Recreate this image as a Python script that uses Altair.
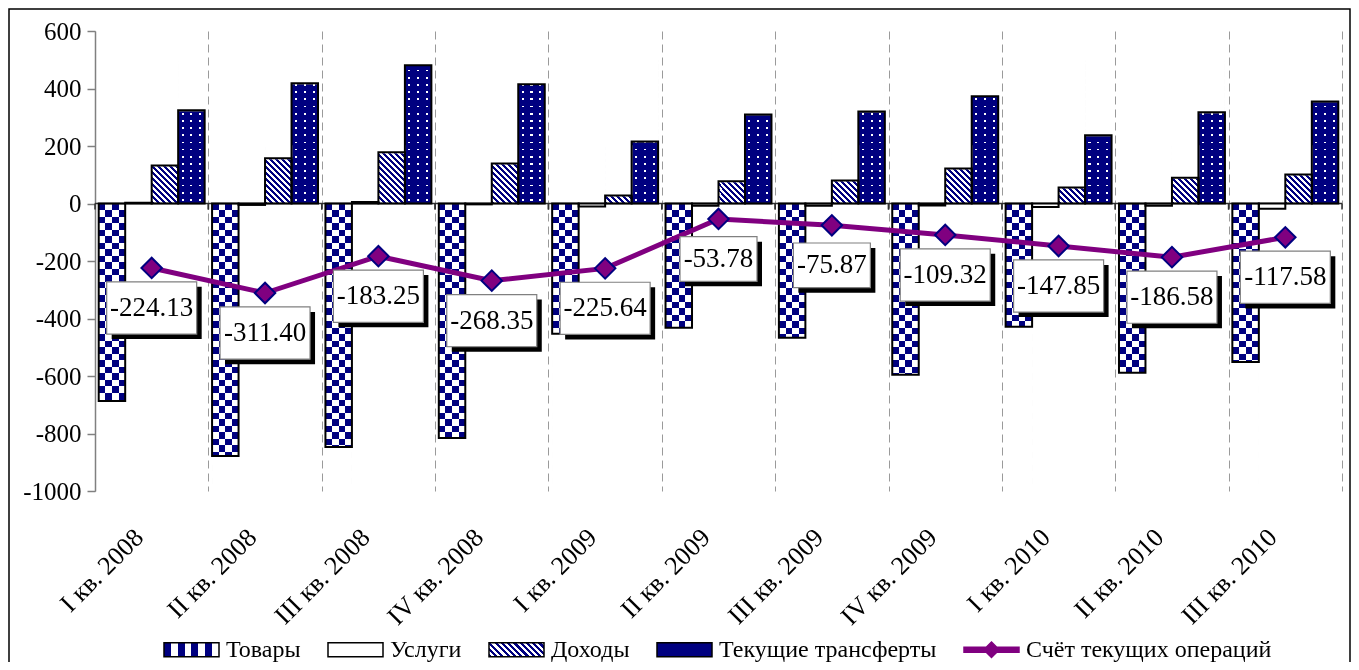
import altair as alt
import pandas as pd

categories = ["I кв. 2008", "II кв. 2008", "III кв. 2008", "IV кв. 2008",
              "I кв. 2009", "II кв. 2009", "III кв. 2009", "IV кв. 2009",
              "I кв. 2010", "II кв. 2010", "III кв. 2010"]
series = ["Товары", "Услуги", "Доходы", "Текущие трансферты"]
line_name = "Счёт текущих операций"
goods = [-687, -878, -847, -816, -453, -432, -467, -596, -429, -589, -551]
services = [3, -5, 5, -3, -10, -8, -8, -7, -12, -8, -18]
income = [132, 157, 178, 139, 28, 77, 80, 122, 56, 90, 101]
transfers = [324, 418, 481, 415, 216, 310, 320, 373, 237, 317, 355]
current = [-224.13, -311.40, -183.25, -268.35, -225.64, -53.78, -75.87,
           -109.32, -147.85, -186.58, -117.58]

NAVY = "#000080"
PURPLE = "#800080"
FONT = "Liberation Serif"
W, H = 1247, 460

bars = pd.DataFrame({
    "cat": categories * 4,
    "series": [s for s in series for _ in categories],
    "value": goods + services + income + transfers,
})
cur = pd.DataFrame({"cat": categories, "cur": current})
legend_df = pd.DataFrame({"s": series + [line_name]})
one = pd.DataFrame({"k": [0]})


def pattern(n, seq):
    stops = []
    for k in range(n):
        pos = k / n
        for c, f in seq:
            a = min(pos, 1.0)
            b = min(pos + f / n, 1.0)
            stops.append({"offset": round(a, 5), "color": c})
            stops.append({"offset": round(b, 5), "color": c})
            pos += f / n
    return stops


def grad(x1, y1, x2, y2, stops):
    return {"gradient": "linear", "x1": x1, "y1": y1, "x2": x2, "y2": y2, "stops": stops}


def grad_expr(g):
    st = ",".join("{offset:%s,color:'%s'}" % (s["offset"], s["color"]) for s in g["stops"])
    return ("{gradient:'linear',x1:%s,y1:%s,x2:%s,y2:%s,stops:[%s]}"
            % (g["x1"], g["y1"], g["x2"], g["y2"], st))


BW = [("black", 0.5), ("white", 0.5)]
goods_h = grad(0, 0, 0, 1, pattern(22, BW))
goods_v = grad(0, 0, 1, 0, pattern(2, BW))
DOT = [("black", 0.38), ("white", 0.24), ("black", 0.38)]
tr_h = grad(0, 0, 0, 1, pattern(20, DOT))
tr_v = grad(0, 0, 1, 0, pattern(3, DOT))
inc_d = grad(0, 1, 0.5554, -0.205, pattern(14, [(NAVY, 0.5), ("white", 0.5)]))

HYPHEN_NUM = "datum.value < 0 ? '-' + format(-datum.value, 'd') : format(datum.value, 'd')"

xaxis = alt.Axis(title=None, domain=False, ticks=False, tickSize=0, grid=True,
                 gridDash=[8, 5], gridColor="#9a9a9a", gridWidth=1,
                 tickBand="extent", labelAngle=-45, labelAlign="right",
                 labelBaseline="middle", labelFont=FONT, labelFontSize=26,
                 labelColor="black", labelPadding=42, labelOffset=-13,
                 labelOverlap=False, labelLimit=300)
xscale = alt.Scale(domain=categories, paddingInner=0, paddingOuter=0)
yaxis = alt.Axis(title=None, values=list(range(-1000, 601, 200)), grid=False,
                 labelExpr=HYPHEN_NUM,
                 labelFont=FONT, labelFontSize=25, labelColor="black",
                 domainColor="#808080", tickColor="#808080", tickSize=8,
                 domainWidth=1.5, tickWidth=1.5, labelPadding=6)
yscale = alt.Scale(domain=[-1000, 600], nice=False, zero=False)


def X(**kw):
    return alt.X("cat:N", sort=categories, scale=xscale, axis=xaxis, **kw)


def XO():
    return alt.XOffset("series:N", sort=series,
                       scale=alt.Scale(domain=series, paddingInner=0, paddingOuter=0.14))


def Y(f):
    return alt.Y(f, type="quantitative", scale=yscale, axis=yaxis)


def sub(name):
    return alt.Chart(bars).transform_filter(alt.datum.series == name)


def seg(chart, lo, hi):
    return chart.encode(x=X(), xOffset=XO(), y=Y(lo), y2=alt.Y2(hi))


def cover(chart):
    return chart.mark_bar(fill="white", stroke="white", strokeWidth=1.6)


layers = []

# Goods: checkerboard by XOR of two stripe layers
g = sub("Товары").transform_calculate(z="0", b="-1000")
layers.append(seg(g.mark_bar(fill=goods_h, strokeWidth=0), "z", "b"))
layers.append(seg(g.mark_bar(fill=goods_v, strokeWidth=0, blend="difference"), "value", "z"))
layers.append(seg(cover(g), "value", "b"))
layers.append(seg(g.mark_bar(fill=NAVY, strokeWidth=0, blend="lighten"), "value", "z"))

# Transfers: navy with white dots
t = sub("Текущие трансферты").transform_calculate(z="0", b="500")
layers.append(seg(t.mark_bar(fill=tr_h, strokeWidth=0), "z", "b"))
layers.append(seg(t.mark_bar(fill=tr_v, strokeWidth=0, blend="multiply"), "value", "z"))
layers.append(seg(cover(t), "value", "b"))
layers.append(seg(t.mark_bar(fill=NAVY, strokeWidth=0, blend="lighten"), "value", "z"))

# Income: diagonal stripes
i = sub("Доходы").transform_calculate(z="0", b="200")
layers.append(seg(i.mark_bar(fill=inc_d, strokeWidth=0), "z", "b"))
layers.append(seg(cover(i), "value", "b"))

# zero line and ticks
zr = alt.Chart(one).transform_calculate(z="0").mark_rule(color="#303030", strokeWidth=1.5).encode(y=Y("z"))
layers.append(zr)
for bp in (0, 1):
    tk = alt.Chart(cur).transform_calculate(z="0", zt="-21").mark_rule(
        color="#303030", strokeWidth=1.5).encode(x=X(bandPosition=bp), y=Y("z"), y2=alt.Y2("zt"))
    layers.append(tk)

# Services: white bars
layers.append(seg(sub("Услуги").transform_calculate(z="0").mark_bar(
    fill="white", stroke="black", strokeWidth=2), "value", "z"))
# Outlines
layers.append(seg(alt.Chart(bars).transform_filter(alt.datum.series != "Услуги")
                  .transform_calculate(z="0").mark_bar(
                      fillOpacity=0, stroke="black", strokeWidth=2), "value", "z"))

# Current account line
layers.append(alt.Chart(cur).mark_line(color=PURPLE, strokeWidth=5).encode(x=X(), y=Y("cur")))
layers.append(alt.Chart(cur).mark_point(shape="diamond", size=420, filled=True, fill=PURPLE,
                                        stroke=NAVY, strokeWidth=2, opacity=1)
              .encode(x=X(), y=Y("cur")))

# Data labels
BOX = "M-1,-0.58L1,-0.58L1,0.58L-1,0.58Z"
lab = alt.Chart(cur).transform_calculate(
    txt="(datum.cur < 0 ? '-' : '') + format(abs(datum.cur), '.2f')",
    w="pow(13 * length(format(abs(datum.cur), '.2f')) + 12, 2)")
layers.append(lab.mark_point(shape=BOX, filled=True, fill="black", opacity=1,
                             strokeWidth=0, xOffset=5, yOffset=45)
              .encode(x=X(), y=Y("cur"), size=alt.Size("w:Q", scale=None, legend=None)))
layers.append(lab.mark_point(shape=BOX, filled=True, fill="white", stroke="#808080",
                             strokeWidth=1.2, opacity=1, yOffset=40)
              .encode(x=X(), y=Y("cur"), size=alt.Size("w:Q", scale=None, legend=None)))
layers.append(lab.mark_text(font=FONT, fontSize=27, color="black", dy=40)
              .encode(x=X(), y=Y("cur"), text=alt.Text("txt:N")))

# Legend: one merged native legend (fill, stroke and shape by series)
rect_path = "M-1,-0.255H1V0.255H-1Z"
line_path = "M-1,-0.09H1V0.09H-1Z M0,-0.28L0.28,0L0,0.28L-0.28,0Z"
leg_goods = grad(0, 0, 1, 0, pattern(4, [(NAVY, 0.5), ("white", 0.5)]))
leg_inc = grad(0, 1, 1.178, 0.700, pattern(11, [(NAVY, 0.5), ("white", 0.5)]))
all_names = series + [line_name]


def mk_legend():
    return alt.Legend(title=None, orient="none", legendX=68, legendY=590,
                      direction="horizontal", columns=5, padding=0,
                      labelFont=FONT, labelFontSize=24, labelColor="black",
                      labelLimit=500,
                      labelOffset=6, columnPadding=24, symbolSize=3025,
                      symbolOpacity=1, symbolStrokeWidth=1.5)


layers.append(alt.Chart(legend_df).mark_point(filled=True, opacity=0).encode(
    x=alt.value(0), y=alt.value(0),
    color=alt.Color("s:N", sort=all_names, scale=alt.Scale(
        domain=all_names,
        range=[alt.ExprRef(expr=grad_expr(leg_goods)), "white",
               alt.ExprRef(expr=grad_expr(leg_inc)), NAVY, PURPLE]),
        legend=mk_legend()),
    stroke=alt.Stroke("s:N", sort=all_names, scale=alt.Scale(
        domain=all_names, range=["black", "black", "black", "black", PURPLE]),
        legend=mk_legend()),
    shape=alt.Shape("s:N", sort=all_names, scale=alt.Scale(
        domain=all_names, range=[rect_path] * 4 + [line_path]),
        legend=mk_legend()),
))

# Outer frame
layers.append(alt.Chart(one).mark_rect(fillOpacity=0, stroke="black", strokeWidth=1.5).encode(
    x=alt.value(-86), x2=alt.value(1255), y=alt.value(-22), y2=alt.value(720)))

chart = alt.layer(*layers).properties(
    width=W, height=H,
    padding={"left": 87, "top": 23, "right": 9, "bottom": 171},
    autosize=alt.AutoSizeParams(type="none"),
    background="white",
).configure_view(stroke=None)

chart.save("out.html", embed_options={"renderer": "svg", "actions": False})
